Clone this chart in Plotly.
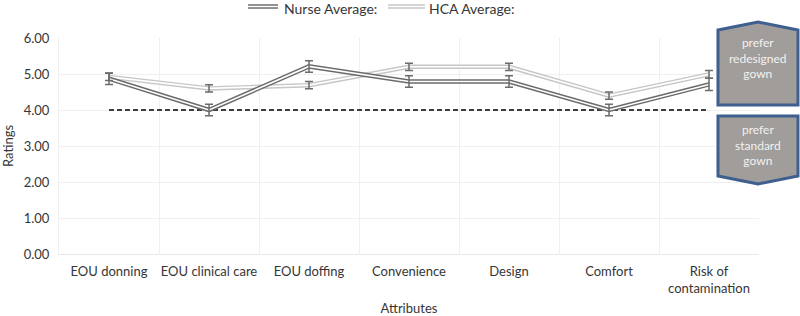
import plotly.graph_objects as go

categories = ["EOU donning", "EOU clinical care", "EOU doffing", "Convenience",
              "Design", "Comfort", "Risk of<br>contamination"]
nurse_avg = [4.87, 4.00, 5.21, 4.79, 4.79, 4.00, 4.71]
nurse_err = [0.16, 0.16, 0.16, 0.16, 0.16, 0.16, 0.17]
hca_avg = [4.92, 4.60, 4.69, 5.20, 5.20, 4.40, 4.99]
hca_err = [0.10, 0.10, 0.10, 0.10, 0.10, 0.10, 0.11]
threshold = [4.0] * len(categories)

x = list(range(len(categories)))
NURSE = "#6b6b6b"
HCA = "#c6c6c6"
ERR = "#6b6b6b"
FONT = "Lato"
TXT = "#363636"

fig = go.Figure()
# dashed threshold
fig.add_trace(go.Scatter(x=x, y=threshold, mode="lines",
                         line=dict(color="black", width=1.5, dash="5px,3px"),
                         showlegend=False, hoverinfo="skip"))
for vals, col in [(hca_avg, HCA), (nurse_avg, NURSE)]:
    fig.add_trace(go.Scatter(x=x, y=vals, mode="lines",
                             line=dict(color=col, width=4.5), showlegend=False))
    fig.add_trace(go.Scatter(x=x, y=vals, mode="lines",
                             line=dict(color="white", width=1.6), showlegend=False,
                             hoverinfo="skip"))
for vals, err in [(hca_avg, hca_err), (nurse_avg, nurse_err)]:
    fig.add_trace(go.Scatter(x=x, y=vals, mode="markers",
                             marker=dict(size=1, opacity=0),
                             error_y=dict(type="data", array=err, visible=True,
                                          color=ERR, thickness=1.5, width=4),
                             showlegend=False))

def px_x(p):
    return (p - 59) / 700.0

def px_y(p):
    return (254 - p) / 216.0

shapes = []
# legend symbols (double lines)
for x0, x1, col in [(248, 278, NURSE), (388, 425, HCA)]:
    shapes.append(dict(type="line", xref="paper", yref="paper",
                       x0=px_x(x0), x1=px_x(x1), y0=px_y(6.5), y1=px_y(6.5),
                       line=dict(color=col, width=4.5)))
    shapes.append(dict(type="line", xref="paper", yref="paper",
                       x0=px_x(x0), x1=px_x(x1), y0=px_y(6.5), y1=px_y(6.5),
                       line=dict(color="white", width=1.6)))

def path(pts):
    return "M " + " L ".join(f"{px_x(a):.4f},{px_y(b):.4f}" for a, b in pts) + " Z"

box_style = dict(type="path", xref="paper", yref="paper",
                 fillcolor="#a09d9a", line=dict(color="#3f5f8f", width=3), layer="above")
shapes.append(dict(box_style, path=path([(718, 30), (758, 22), (798, 30), (798, 105), (718, 105)])))
shapes.append(dict(box_style, path=path([(718, 116), (798, 116), (798, 176), (758, 184), (718, 176)])))

annotations = [
    dict(text="Nurse Average:", x=px_x(282), y=px_y(8), xref="paper", yref="paper",
         xanchor="left", yanchor="middle", showarrow=False,
         font=dict(family=FONT, size=14, color=TXT)),
    dict(text="HCA Average:", x=px_x(427), y=px_y(8), xref="paper", yref="paper",
         xanchor="left", yanchor="middle", showarrow=False,
         font=dict(family=FONT, size=14, color=TXT)),
    dict(text="prefer<br>redesigned<br>gown", x=px_x(758), y=px_y(58), xref="paper", yref="paper",
         xanchor="center", yanchor="middle", showarrow=False,
         font=dict(family=FONT, size=12, color="#f2f2f2")),
    dict(text="prefer<br>standard<br>gown", x=px_x(758), y=px_y(145), xref="paper", yref="paper",
         xanchor="center", yanchor="middle", showarrow=False,
         font=dict(family=FONT, size=12, color="#f2f2f2")),
]

fig.update_layout(
    width=800, height=316,
    margin=dict(l=59, r=41, t=38, b=62),
    paper_bgcolor="white", plot_bgcolor="white",
    font=dict(family=FONT, size=13, color=TXT),
    showlegend=False,
    shapes=shapes, annotations=annotations,
    xaxis=dict(range=[-0.5, 6.5], tickmode="array", tickvals=x, ticktext=categories,
               showgrid=False, zeroline=False, showline=True, linecolor="#e8e8e8",
               ticks="", ticklabelstandoff=5, automargin=False,
               minor=dict(tick0=0.5, dtick=1, showgrid=True, gridcolor="#f0f0f0", gridwidth=1),
               title=dict(text="Attributes", standoff=10, font=dict(size=13))),
    yaxis=dict(range=[0, 6], dtick=1, tickformat=".2f", showgrid=True, gridcolor="#f0f0f0",
               zeroline=False, showline=True, linecolor="#f0f0f0", ticks="",
               ticklabelstandoff=6, automargin=False,
               title=dict(text="Ratings", standoff=12, font=dict(size=13))),
)

fig.write_html("out.html", config={"displayModeBar": False},
               post_script="document.body.style.margin='0';document.body.style.overflow='hidden';")
